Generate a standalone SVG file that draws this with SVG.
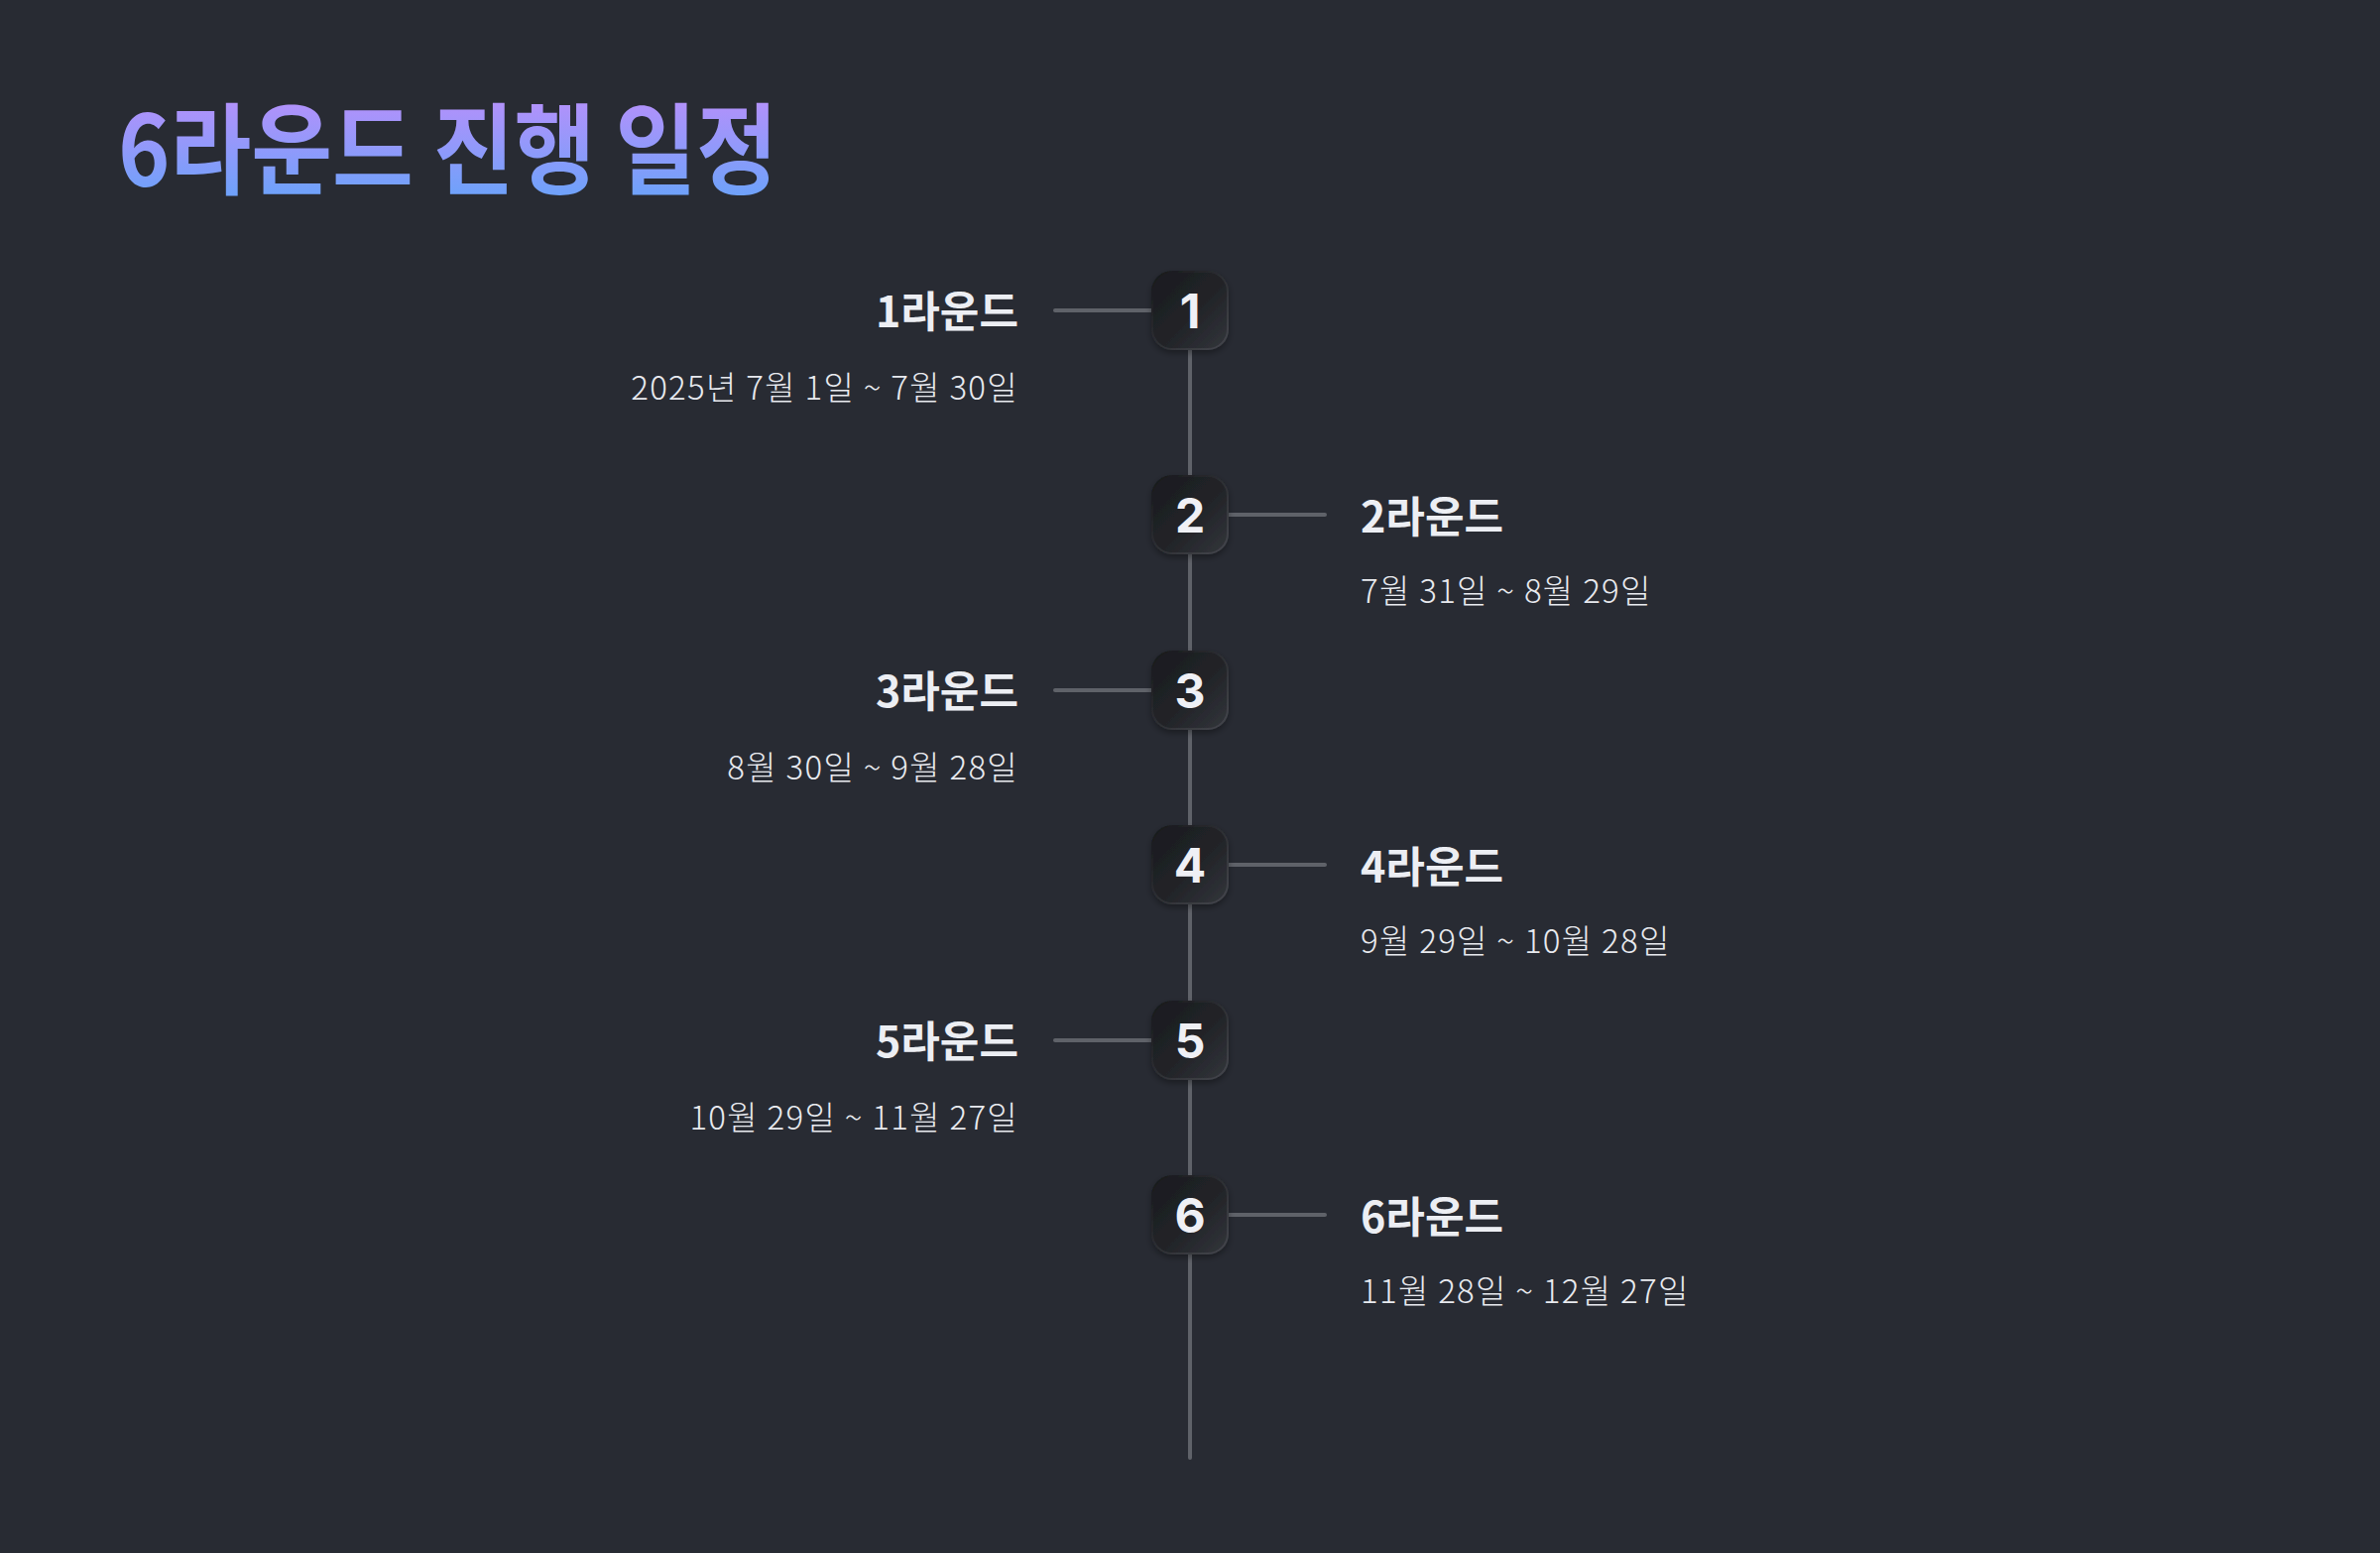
<svg xmlns="http://www.w3.org/2000/svg" width="2400" height="1566" viewBox="0 0 2400 1566">
  <defs>
    <linearGradient id="titleGrad" x1="0" y1="0" x2="0" y2="1">
      <stop offset="0" stop-color="#c88cfb"/>
      <stop offset="1" stop-color="#60a5fa"/>
    </linearGradient>
    <linearGradient id="boxGrad" x1="0" y1="0" x2="1" y2="1">
      <stop offset="0" stop-color="#1a1b1f"/>
      <stop offset="0.55" stop-color="#222428"/>
      <stop offset="1" stop-color="#33353b"/>
    </linearGradient>
    <linearGradient id="rimGrad" x1="0" y1="0" x2="1" y2="1">
      <stop offset="0" stop-color="#16171a"/>
      <stop offset="1" stop-color="#45474d"/>
    </linearGradient>
    <filter id="shadow" x="-30%" y="-30%" width="160%" height="160%">
      <feDropShadow dx="0" dy="3" stdDeviation="3" flood-color="#000" flood-opacity="0.35"/>
    </filter>
    <style>
      .bg { fill: #282b33; }
      .title { font-family: "Noto Sans CJK KR", "Liberation Sans", sans-serif; font-weight: 700; font-size: 100px; fill: url(#titleGrad); }
      .conn { stroke: #5f6269; stroke-width: 4; stroke-linecap: round; fill: none; }
      .box { fill: url(#boxGrad); stroke: url(#rimGrad); stroke-width: 2; filter: url(#shadow); }
      .num { font-family: "Inter", "Noto Sans CJK KR", sans-serif; font-weight: 700; font-size: 48px; fill: #eff0f5; text-anchor: middle; }
      .label { font-family: "Noto Sans CJK KR", "Liberation Sans", sans-serif; font-weight: 700; font-size: 43px; fill: #eceef3; }
      .date { font-family: "Noto Sans CJK KR", "Liberation Sans", sans-serif; font-weight: 300; font-size: 33px; letter-spacing: 1.3px; fill: #e8eaef; }
      .left { text-anchor: end; }
    </style>
  </defs>

  <rect class="bg" x="0" y="0" width="2400" height="1566"/>

  <text class="title" x="119" y="188" textLength="665" lengthAdjust="spacingAndGlyphs">6라운드 진행 일정</text>

  <g id="connectors">
    <line class="conn" x1="1200" y1="313" x2="1200" y2="1470"/>
    <line class="conn" x1="1064" y1="313" x2="1162" y2="313"/>
    <line class="conn" x1="1238" y1="519" x2="1336" y2="519"/>
    <line class="conn" x1="1064" y1="696" x2="1162" y2="696"/>
    <line class="conn" x1="1238" y1="872" x2="1336" y2="872"/>
    <line class="conn" x1="1064" y1="1049" x2="1162" y2="1049"/>
    <line class="conn" x1="1238" y1="1225" x2="1336" y2="1225"/>
  </g>

  <g id="node-1">
    <rect class="box" x="1162" y="274" width="76" height="78" rx="20"/>
    <text class="num" x="1200" y="331">1</text>
    <text class="label left" x="1027" y="330">1라운드</text>
    <text class="date left" x="1027" y="403">2025년 7월 1일 ~ 7월 30일</text>
  </g>

  <g id="node-2">
    <rect class="box" x="1162" y="480" width="76" height="78" rx="20"/>
    <text class="num" x="1200" y="537">2</text>
    <text class="label" x="1372" y="537">2라운드</text>
    <text class="date" x="1372" y="608">7월 31일 ~ 8월 29일</text>
  </g>

  <g id="node-3">
    <rect class="box" x="1162" y="657" width="76" height="78" rx="20"/>
    <text class="num" x="1200" y="714">3</text>
    <text class="label left" x="1027" y="713">3라운드</text>
    <text class="date left" x="1027" y="786">8월 30일 ~ 9월 28일</text>
  </g>

  <g id="node-4">
    <rect class="box" x="1162" y="833" width="76" height="78" rx="20"/>
    <text class="num" x="1200" y="890">4</text>
    <text class="label" x="1372" y="890">4라운드</text>
    <text class="date" x="1372" y="961">9월 29일 ~ 10월 28일</text>
  </g>

  <g id="node-5">
    <rect class="box" x="1162" y="1010" width="76" height="78" rx="20"/>
    <text class="num" x="1200" y="1067">5</text>
    <text class="label left" x="1027" y="1066">5라운드</text>
    <text class="date left" x="1027" y="1139">10월 29일 ~ 11월 27일</text>
  </g>

  <g id="node-6">
    <rect class="box" x="1162" y="1186" width="76" height="78" rx="20"/>
    <text class="num" x="1200" y="1243">6</text>
    <text class="label" x="1372" y="1243">6라운드</text>
    <text class="date" x="1372" y="1314">11월 28일 ~ 12월 27일</text>
  </g>
</svg>
